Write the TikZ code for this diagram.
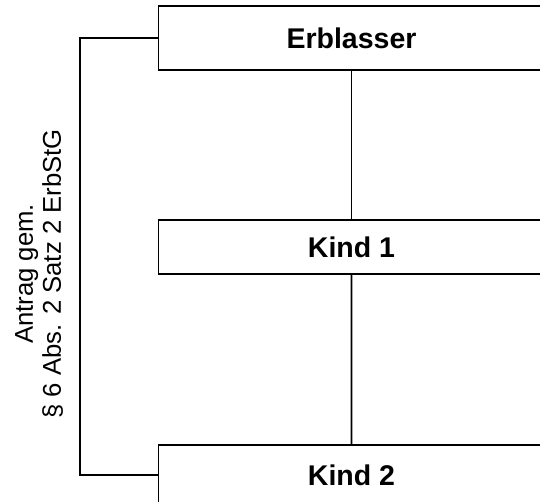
\documentclass[tikz,border=0pt]{standalone}
\usepackage{fontspec}
\setmainfont{Liberation Sans}
\begin{document}
\begin{tikzpicture}[x=1pt, y=1pt, line width=1.6pt,
    level 1/.style={level distance=209pt},
    level 2/.style={level distance=228pt},
    person/.style={draw, minimum width=386pt, inner sep=0pt,
      font=\fontsize{28.5}{34}\selectfont\bfseries}
    ]
    \useasboundingbox (0,0) rectangle (540,501);
    \clip (0,0) rectangle (540,501);
    \node[person, minimum height=64pt] (erblasser) at (351.5,463) {Erblasser}
      child {node[person, minimum height=54pt] (kind1) {Kind 1}
        child {node[person, minimum height=60pt] (kind2) {Kind 2}}
      };
    \draw (erblasser.west) -- ++(-78,0) |- (kind2.west);
    \node[rotate=90, align=center, font=\fontsize{25.7}{28}\selectfont] (antrag) at (39,227)
      {Antrag gem.\\ § 6 Abs. 2 Satz 2 ErbStG};
\end{tikzpicture}
\end{document}
